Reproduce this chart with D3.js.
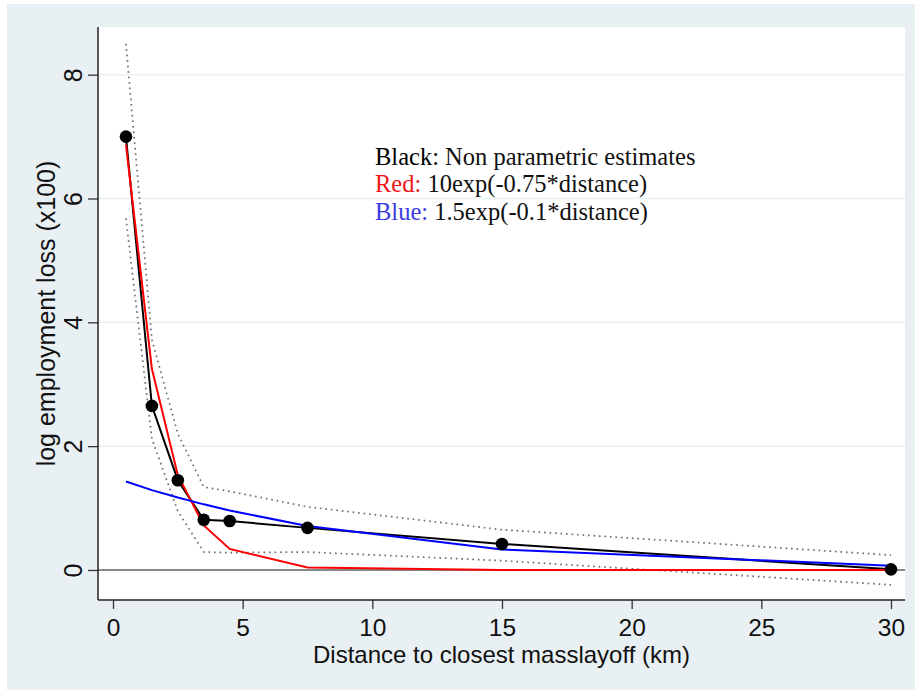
<!DOCTYPE html>
<html>
<head>
<meta charset="utf-8">
<script src="https://cdn.jsdelivr.net/npm/d3@7"></script>
<style>
  body { margin: 0; background: #fff; }
  svg { display: block; }
</style>
</head>
<body>
<svg width="919" height="693"></svg>
<script>
// data
var distance = [0.5, 1.5, 2.5, 3.5, 4.5, 7.5, 15, 30];
var npEstimate = [7.0, 2.65, 1.45, 0.81, 0.79, 0.68, 0.42, 0.01];
var ciUpper = [8.5, 3.72, 2.2, 1.34, 1.27, 1.02, 0.65, 0.24];
var ciLower = [5.68, 2.12, 0.95, 0.29, 0.28, 0.29, 0.15, -0.24];
var redFit = [6.87, 3.25, 1.53, 0.72, 0.34, 0.04, 0.0, 0.0];
var blueFit = [1.43, 1.29, 1.17, 1.06, 0.96, 0.71, 0.33, 0.07];
var xTicks = [0, 5, 10, 15, 20, 25, 30];
var yTicks = [0, 2, 4, 6, 8];
var legendLines = [
  {key: "Black: ", text: "Non parametric estimates", color: "#000"},
  {key: "Red: ", text: "10exp(-0.75*distance)", color: "#f01818"},
  {key: "Blue: ", text: "1.5exp(-0.1*distance)", color: "#3a3ae0"}
];

var svg = d3.select("svg");
var box = {left: 98, top: 27, right: 905, bottom: 600};

// outer stata-like background
svg.append("rect").attr("x", 7).attr("y", 4).attr("width", 908).attr("height", 686)
  .attr("fill", "#e9f0f3");
svg.append("rect").attr("x", box.left).attr("y", box.top)
  .attr("width", box.right - box.left).attr("height", box.bottom - box.top)
  .attr("fill", "#fff");

var x = d3.scaleLinear().domain([-0.578, 30.54]).range([box.left, box.right]);
var y = d3.scaleLinear().domain([-0.485, 8.77]).range([box.bottom, box.top]);

// gridlines
svg.append("g").selectAll("line").data(yTicks.filter(function(d) { return d > 0; }))
  .enter().append("line")
  .attr("x1", box.left).attr("x2", box.right)
  .attr("y1", function(d) { return y(d); }).attr("y2", function(d) { return y(d); })
  .attr("stroke", "#e8f1f3").attr("stroke-width", 1.5);

// zero line
svg.append("line").attr("x1", box.left).attr("x2", box.right)
  .attr("y1", y(0)).attr("y2", y(0))
  .attr("stroke", "#606060").attr("stroke-width", 1.5);

var pts = function(vals) {
  return distance.map(function(d, i) { return [d, vals[i]]; });
};
var line = d3.line()
  .x(function(d) { return x(d[0]); })
  .y(function(d) { return y(d[1]); });

// confidence bands
[ciUpper, ciLower].forEach(function(s) {
  svg.append("path").attr("d", line(pts(s)))
    .attr("fill", "none").attr("stroke", "#707070")
    .attr("stroke-width", 1.7).attr("stroke-dasharray", "1.7,3.8");
});

svg.append("path").attr("d", line(pts(npEstimate)))
  .attr("fill", "none").attr("stroke", "#000").attr("stroke-width", 2);
svg.append("path").attr("d", line(pts(redFit)))
  .attr("fill", "none").attr("stroke", "#ff0000").attr("stroke-width", 2);
svg.append("path").attr("d", line(pts(blueFit)))
  .attr("fill", "none").attr("stroke", "#0000ff").attr("stroke-width", 2);

svg.append("g").selectAll("circle").data(pts(npEstimate))
  .enter().append("circle")
  .attr("cx", function(d) { return x(d[0]); })
  .attr("cy", function(d) { return y(d[1]); })
  .attr("r", 6.3).attr("fill", "#000");

// axes
var fontAx = "'Liberation Sans', Arial, sans-serif";

var gx = svg.append("g").attr("transform", "translate(0," + box.bottom + ")")
  .call(d3.axisBottom(x).tickValues(xTicks).tickSize(9).tickPadding(10));
gx.select(".domain").remove();
gx.selectAll("line").attr("stroke", "#333").attr("stroke-width", 1.3);
gx.selectAll("text").attr("font-family", fontAx).attr("font-size", 24.5)
  .attr("fill", "#111").attr("dy", "0.7em");
svg.append("line").attr("x1", box.left).attr("x2", box.right)
  .attr("y1", box.bottom).attr("y2", box.bottom)
  .attr("stroke", "#222").attr("stroke-width", 1.5);

var gy = svg.append("g").attr("transform", "translate(" + box.left + ",0)")
  .call(d3.axisLeft(y).tickValues(yTicks).tickSize(10));
gy.select(".domain").remove();
gy.selectAll("line").attr("stroke", "#333").attr("stroke-width", 1.3);
gy.selectAll("text")
  .attr("transform", "rotate(-90)")
  .attr("x", 0).attr("y", -16).attr("dy", 0)
  .attr("text-anchor", "middle")
  .attr("font-family", fontAx).attr("font-size", 25).attr("fill", "#111");
svg.append("line").attr("x1", box.left).attr("x2", box.left)
  .attr("y1", box.top).attr("y2", box.bottom)
  .attr("stroke", "#222").attr("stroke-width", 1.5);

// axis titles
svg.append("text")
  .attr("x", (box.left + box.right) / 2).attr("y", 663)
  .attr("text-anchor", "middle")
  .attr("font-family", fontAx).attr("font-size", 24).attr("fill", "#111")
  .text("Distance to closest masslayoff (km)");
svg.append("text")
  .attr("transform", "translate(55," + ((box.top + box.bottom) / 2) + ") rotate(-90)")
  .attr("text-anchor", "middle")
  .attr("font-family", fontAx).attr("font-size", 25).attr("fill", "#111")
  .text("log employment loss (x100)");

// legend text
var leg = svg.append("g").attr("font-family", "'Liberation Serif', 'Times New Roman', serif")
  .attr("font-size", 24.5);
legendLines.forEach(function(l, i) {
  var t = leg.append("text").attr("x", 375).attr("y", 165 + i * 27.3);
  t.append("tspan").attr("fill", l.color).text(l.key);
  t.append("tspan").attr("fill", "#111").text(l.text);
});
</script>
</body>
</html>
